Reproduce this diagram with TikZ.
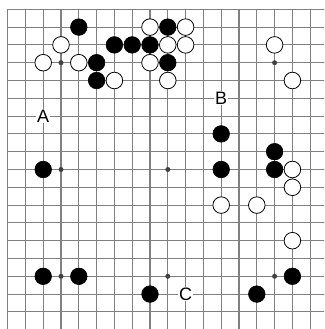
\documentclass[tikz,border=0pt]{standalone}
\usepackage{fontspec}
\setmainfont{Liberation Sans}
\begin{document}
\begin{tikzpicture}[x=17.8pt,y=-17.8pt,
  gridline/.style={draw=black!50,line width=1.1pt},
  bstone/.style={circle,fill=black,draw=black,line width=0.6pt,minimum size=16.6pt,inner sep=0pt},
  wstone/.style={circle,fill=white,draw=black,line width=0.8pt,minimum size=16.6pt,inner sep=0pt},
  starpt/.style={circle,fill=black!75,minimum size=5pt,inner sep=0pt},
  lbl/.style={fill=white,inner sep=1pt,font=\fontsize{18}{18}\selectfont}]
\useasboundingbox[fill=white] (-0.427,-0.522) rectangle (17.775,17.961);
\clip (-0.427,-0.522) rectangle (17.775,17.961);
\foreach \i in {0,...,18} {
  \draw[gridline] (\i,0) -- (\i,18);
  \draw[gridline] (0,\i) -- (18,\i);
}
\foreach \a/\b [count=\n] in {3/3,15/3,3/9,9/9,15/9,3/15,9/15,15/15}
  \node[starpt] (s\n) at (\a,\b) {};
% black stones
\foreach \a/\b [count=\n] in {4/1,9/1,6/2,7/2,8/2,5/3,9/3,5/4,2/9,12/7,12/9,15/8,15/9,2/15,4/15,16/15,8/16,14/16}
  \node[bstone] (b\n) at (\a,\b) {};
% white stones
\foreach \a/\b [count=\n] in {8/1,10/1,3/2,9/2,10/2,15/2,2/3,4/3,8/3,6/4,9/4,16/4,16/9,16/10,12/11,14/11,16/13}
  \node[wstone] (w\n) at (\a,\b) {};
\node[lbl] (A) at (2,6) {A};
\node[lbl] (B) at (12,5) {B};
\node[lbl] (C) at (10,16) {C};
\end{tikzpicture}
\end{document}
